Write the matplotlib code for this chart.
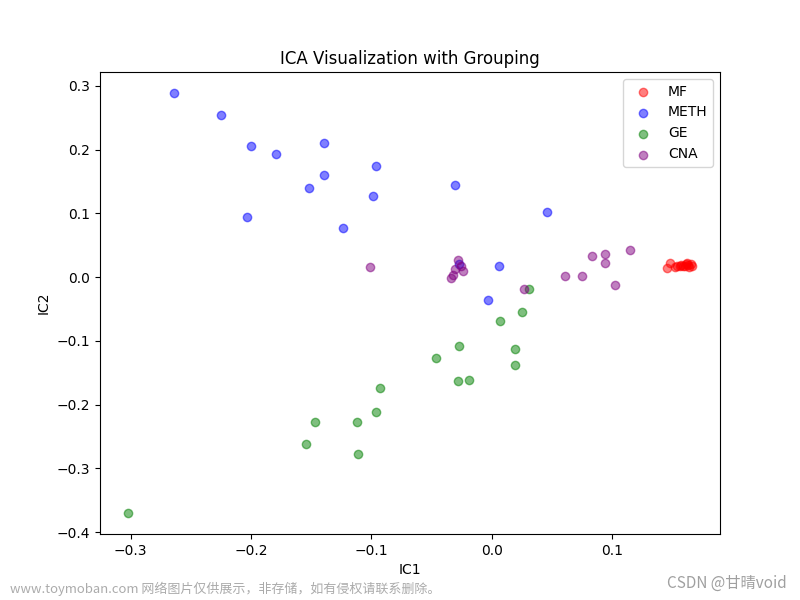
import matplotlib
matplotlib.use('Agg')
import matplotlib.pyplot as plt

# ICA components, one pair of lists per group
mf_x = [0.145, 0.148, 0.152, 0.156, 0.159, 0.161, 0.163, 0.164, 0.165, 0.157, 0.162, 0.166, 0.154, 0.160]
mf_y = [0.014, 0.022, 0.016, 0.017, 0.017, 0.020, 0.019, 0.016, 0.020, 0.019, 0.022, 0.017, 0.018, 0.018]

meth_x = [-0.264, -0.225, -0.200, -0.179, -0.139, -0.152, -0.139, -0.096, -0.099,
          -0.203, -0.124, -0.031, 0.046, 0.006, -0.003, -0.027]
meth_y = [0.289, 0.254, 0.206, 0.193, 0.210, 0.140, 0.160, 0.174, 0.127,
          0.094, 0.077, 0.144, 0.102, 0.017, -0.036, 0.020]

ge_x = [-0.302, -0.154, -0.147, -0.112, -0.111, -0.096, -0.093, -0.046,
        -0.027, -0.028, -0.019, 0.007, 0.019, 0.019, 0.025, 0.031]
ge_y = [-0.370, -0.261, -0.228, -0.228, -0.278, -0.212, -0.174, -0.127,
        -0.108, -0.163, -0.162, -0.068, -0.113, -0.137, -0.055, -0.019]

cna_x = [-0.101, -0.028, -0.026, -0.024, -0.031, -0.032, -0.034, 0.027,
         0.061, 0.075, 0.083, 0.094, 0.094, 0.115, 0.102]
cna_y = [0.016, 0.027, 0.017, 0.009, 0.013, 0.003, -0.002, -0.019,
         0.002, 0.002, 0.033, 0.036, 0.023, 0.042, -0.013]

groups = [('MF', mf_x, mf_y, 'red'),
          ('METH', meth_x, meth_y, 'blue'),
          ('GE', ge_x, ge_y, 'green'),
          ('CNA', cna_x, cna_y, 'purple')]

fig, ax = plt.subplots(figsize=(8, 6), dpi=100)
for name, xs, ys, color in groups:
    ax.scatter(xs, ys, c=color, alpha=0.5, label=name)

ax.set_xlabel('IC1')
ax.set_ylabel('IC2')
ax.set_title('ICA Visualization with Grouping')
ax.legend(loc='upper right')

# watermarks in the reference image
cjk = ['Noto Sans CJK SC', 'DejaVu Sans']
fig.text(0.012, 0.012, 'www.toymoban.com 网络图片仅供展示，非存储，如有侵权请联系删除。',
         fontsize=9.4, color='#ababab', family=cjk)
fig.text(0.983, 0.02, 'CSDN @甘晴void', fontsize=11, color='#a0a0a0',
         ha='right', family=cjk)

plt.savefig('out.png', dpi=100)
plt.close()
